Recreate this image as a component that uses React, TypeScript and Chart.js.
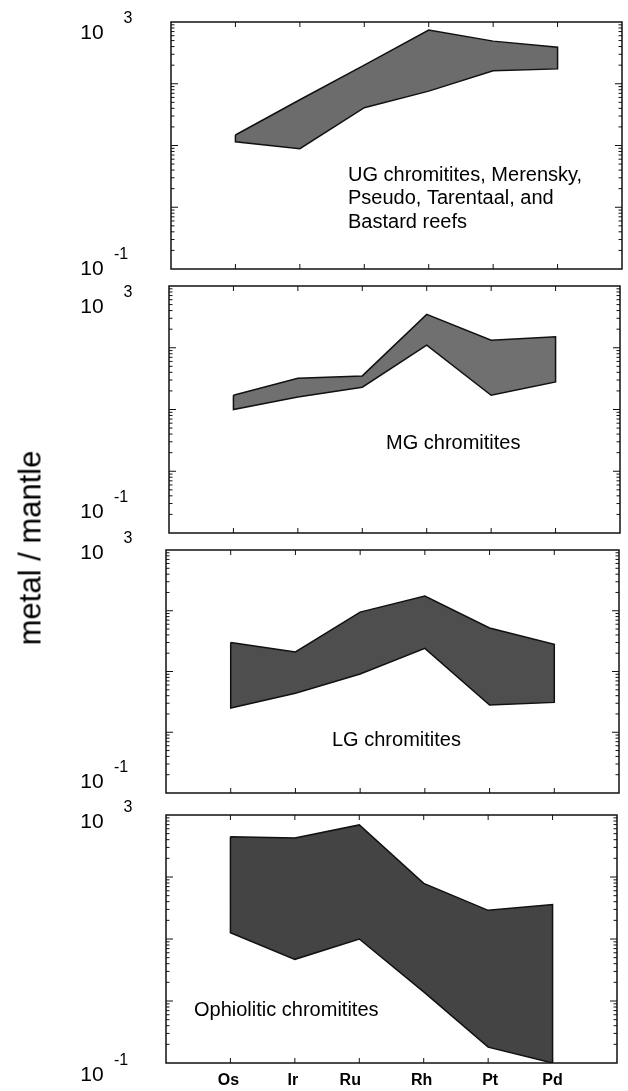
import React, { useEffect, useRef } from 'react';
import { Chart, registerables } from 'chart.js';

Chart.register(...registerables);

// ---- data ----
const categories = ['Os', 'Ir', 'Ru', 'Rh', 'Pt', 'Pd'];

const ugUpper = [14.8, 55, 200, 740, 490, 390];
const ugLower = [11.5, 8.9, 41, 76, 162, 174];

const mgUpper = [17, 32, 35, 347, 132, 151];
const mgLower = [10, 16, 23, 110, 17, 28];

const lgUpper = [30, 21, 95, 174, 52, 28];
const lgLower = [2.5, 4.4, 9.1, 24, 2.8, 3.1];

const ophUpper = [447, 427, 692, 79, 29, 36];
const ophLower = [12.6, 4.7, 10, 1.4, 0.18, 0.1];

const ugLabel = ['UG chromitites, Merensky,', 'Pseudo, Tarentaal, and', 'Bastard reefs'];
const mgLabel = ['MG chromitites'];
const lgLabel = ['LG chromitites'];
const ophLabel = ['Ophiolitic chromitites'];

const yMin = 0.1;
const yMax = 1000;
const yTopLabel = { base: '10', exp: '3' };
const yBottomLabel = { base: '10', exp: '-1' };
const yTitle = 'metal / mantle';

// ---- layout / style ----
const FONT = '"Liberation Sans", Arial, Helvetica, sans-serif';
const W = 628;
const PAD = 22;

type PanelCfg = {
  upper: number[];
  lower: number[];
  label: string[];
  frame: { left: number; right: number; top: number; bottom: number };
  fill: string;
  text: { dx: number; dy: number };
  topDy: number;
  bottomDy: number;
  showX: boolean;
};

const panels: PanelCfg[] = [
  {
    upper: ugUpper, lower: ugLower, label: ugLabel,
    frame: { left: 171, right: 622, top: 22, bottom: 269 },
    fill: '#6c6c6c', text: { dx: 177, dy: 153 }, topDy: 11, bottomDy: 0, showX: false,
  },
  {
    upper: mgUpper, lower: mgLower, label: mgLabel,
    frame: { left: 169, right: 620, top: 286, bottom: 533 },
    fill: '#707070', text: { dx: 217, dy: 157 }, topDy: 21, bottomDy: -21, showX: false,
  },
  {
    upper: lgUpper, lower: lgLower, label: lgLabel,
    frame: { left: 166, right: 619, top: 550, bottom: 793 },
    fill: '#4e4e4e', text: { dx: 166, dy: 190 }, topDy: 3, bottomDy: -11, showX: false,
  },
  {
    upper: ophUpper, lower: ophLower, label: ophLabel,
    frame: { left: 166, right: 617, top: 815, bottom: 1063 },
    fill: '#444444', text: { dx: 28, dy: 195 }, topDy: 7, bottomDy: 12, showX: true,
  },
];

const xLabelDx = [-2, -2, -9, -2, 2, 0];

const decorPlugin = {
  id: 'decor',
  afterDraw(chart: any, _args: any, opts: any) {
    const { ctx, chartArea: a, scales } = chart;
    const xs = scales.x;
    const ys = scales.y;
    const line = (x1: number, y1: number, x2: number, y2: number) => {
      ctx.beginPath();
      ctx.moveTo(x1, y1);
      ctx.lineTo(x2, y2);
      ctx.stroke();
    };
    ctx.save();
    ctx.strokeStyle = '#111';
    ctx.lineWidth = 1.5;
    ctx.strokeRect(a.left, a.top, a.right - a.left, a.bottom - a.top);

    // y ticks (log, inward)
    ctx.lineWidth = 1;
    for (let d = -1; d < 3; d++) {
      for (let m = 1; m <= 9; m++) {
        const v = m * Math.pow(10, d);
        if (v <= yMin) continue;
        const y = ys.getPixelForValue(v);
        const len = m === 1 ? 7 : 3.5;
        line(a.left, y, a.left + len, y);
        line(a.right, y, a.right - len, y);
      }
    }
    // x ticks (inward)
    categories.forEach((_c, i) => {
      const x = xs.getPixelForValue(i + 1);
      line(x, a.bottom, x, a.bottom - 5);
      line(x, a.top, x, a.top + 5);
    });

    ctx.fillStyle = '#000';
    ctx.textBaseline = 'middle';
    ctx.textAlign = 'center';
    // y labels
    const lx = 92;
    const yt = ys.getPixelForValue(yMax) + opts.topDy;
    const yb = ys.getPixelForValue(yMin) + opts.bottomDy;
    ctx.font = `21px ${FONT}`;
    ctx.fillText(yTopLabel.base, lx, yt);
    ctx.fillText(yBottomLabel.base, lx, yb);
    ctx.font = `16px ${FONT}`;
    ctx.fillText(yTopLabel.exp, lx + 36, yt - 14);
    ctx.fillText(yBottomLabel.exp, lx + 29, yb - 14);

    // annotation
    ctx.textAlign = 'left';
    ctx.font = `20px ${FONT}`;
    (opts.label as string[]).forEach((t, i) => {
      ctx.fillText(t, a.left + opts.text.dx, a.top + opts.text.dy + i * 23.5);
    });

    // x labels
    if (opts.showX) {
      ctx.textAlign = 'center';
      ctx.font = `bold 16px ${FONT}`;
      categories.forEach((c, i) => {
        ctx.fillText(c, xs.getPixelForValue(i + 1) + xLabelDx[i], a.bottom + 18);
      });
    }
    ctx.restore();
  },
};

function Panel({ cfg }: { cfg: PanelCfg }) {
  const ref = useRef<HTMLCanvasElement>(null);
  const extra = cfg.showX ? 30 : 0;
  const h = cfg.frame.bottom - cfg.frame.top + PAD * 2 + extra;
  const top = cfg.frame.top - PAD;

  useEffect(() => {
    const poly = [
      ...cfg.upper.map((v, i) => ({ x: i + 1, y: v })),
      ...cfg.lower.map((v, i) => ({ x: i + 1, y: v })).reverse(),
      { x: 1, y: cfg.upper[0] },
    ];
    const chart = new Chart(ref.current as HTMLCanvasElement, {
      type: 'scatter',
      data: {
        datasets: [
          {
            data: poly,
            showLine: true,
            fill: 'shape',
            backgroundColor: cfg.fill,
            borderColor: '#111',
            borderWidth: 1.5,
            pointRadius: 0,
            tension: 0,
          } as any,
        ],
      },
      options: {
        animation: false,
        responsive: false,
        devicePixelRatio: 1,
        layout: {
          padding: {
            left: cfg.frame.left,
            right: W - cfg.frame.right,
            top: PAD,
            bottom: PAD + extra,
          },
        },
        scales: {
          x: { type: 'linear', min: 0, max: 7, display: false },
          y: { type: 'logarithmic', min: yMin, max: yMax, display: false },
        },
        plugins: {
          legend: { display: false },
          tooltip: { enabled: false },
          decor: {
            topDy: cfg.topDy,
            bottomDy: cfg.bottomDy,
            label: cfg.label,
            text: cfg.text,
            showX: cfg.showX,
          },
        } as any,
      },
      plugins: [decorPlugin],
    });
    return () => chart.destroy();
  }, []);

  return (
    <canvas
      ref={ref}
      width={W}
      height={h}
      style={{ position: 'absolute', left: 0, top, width: W, height: h }}
    />
  );
}

export default function App() {
  return (
    <div style={{ position: 'absolute', left: 0, top: 0, width: W, height: 1091, background: '#fff', overflow: 'hidden' }}>
      {panels.map((p, i) => (
        <Panel key={i} cfg={p} />
      ))}
      <div
        style={{
          position: 'absolute',
          left: 30,
          top: 548,
          transform: 'translate(-50%, -50%) rotate(-90deg)',
          fontFamily: FONT,
          fontSize: 31,
          whiteSpace: 'nowrap',
          color: '#000',
          lineHeight: 1,
        }}
      >
        {yTitle}
      </div>
    </div>
  );
}
